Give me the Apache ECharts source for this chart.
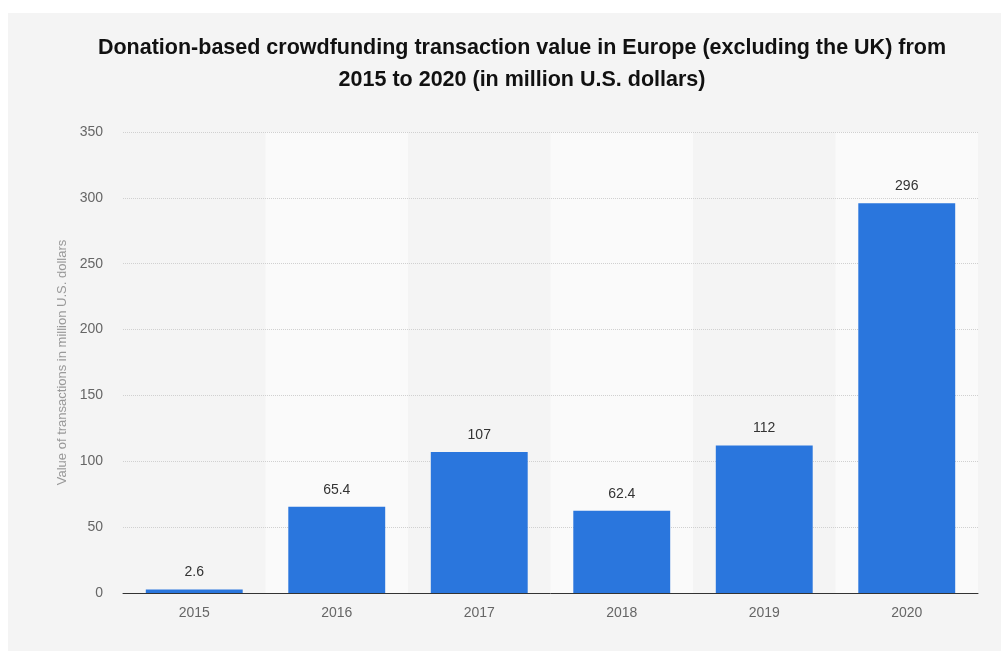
<!DOCTYPE html>
<html>
<head>
<meta charset="utf-8">
<style>
  html, body { margin: 0; padding: 0; background: #ffffff; }
  #chart { width: 1003px; height: 651px; }
</style>
<script src="https://cdn.jsdelivr.net/npm/echarts@6/dist/echarts.min.js"></script>
</head>
<body>
<div id="chart"></div>
<script>
// Donation-based crowdfunding transaction value, Europe excl. UK (million USD)
const years = ['2015', '2016', '2017', '2018', '2019', '2020'];
const values = [2.6, 65.4, 107, 62.4, 112, 296];
const yTicks = [0, 50, 100, 150, 200, 250, 300, 350];

const titleText = 'Donation-based crowdfunding transaction value in Europe (excluding the UK) from\n2015 to 2020 (in million U.S. dollars)';
const yAxisName = 'Value of transactions in million U.S. dollars';

const chart = echarts.init(document.getElementById('chart'), null, { renderer: 'canvas' });

const fontFamily = '"Liberation Sans", Arial, Helvetica, sans-serif';

chart.setOption({
  backgroundColor: '#ffffff',
  animation: false,
  textStyle: { fontFamily: fontFamily },
  graphic: [{
    type: 'rect',
    z: -10,
    shape: { x: 8, y: 13, width: 993, height: 640 },
    style: { fill: '#f4f4f4' },
    silent: true
  }],
  title: {
    text: titleText,
    left: 517,
    textAlign: 'center',
    top: 27,
    textStyle: {
      fontFamily: fontFamily,
      fontSize: 21.5,
      fontWeight: 'bold',
      color: '#111111',
      lineHeight: 32
    }
  },
  grid: { left: 123, right: 25, top: 132, bottom: 58, containLabel: false },
  xAxis: {
    type: 'category',
    data: years,
    boundaryGap: true,
    z: 0,
    axisLine: { show: true, lineStyle: { color: '#333333', width: 1 } },
    axisTick: { show: false },
    axisLabel: { color: '#666666', fontSize: 14, margin: 13, fontFamily: fontFamily },
    splitLine: { show: false },
    splitArea: { show: true, areaStyle: { color: ['rgba(0,0,0,0)', '#fafafa'] } }
  },
  yAxis: {
    type: 'value',
    min: yTicks[0],
    max: yTicks[yTicks.length - 1],
    interval: 50,
    z: 1,
    name: yAxisName,
    nameLocation: 'middle',
    nameGap: 53,
    nameTextStyle: { color: '#999999', fontSize: 13, fontFamily: fontFamily },
    axisLine: { show: false },
    axisTick: { show: false },
    axisLabel: { color: '#666666', fontSize: 14, margin: 20, fontFamily: fontFamily },
    splitLine: { show: true, showMinLine: false, lineStyle: { color: '#d0d0d0', type: [1, 1], width: 1 } }
  },
  series: [{
    type: 'bar',
    data: values,
    barWidth: '68%',
    z: 2,
    itemStyle: { color: '#2a76dd' },
    label: {
      show: true,
      position: 'top',
      distance: 10,
      color: '#333333',
      fontSize: 14,
      fontFamily: fontFamily
    }
  }]
});
</script>
</body>
</html>
